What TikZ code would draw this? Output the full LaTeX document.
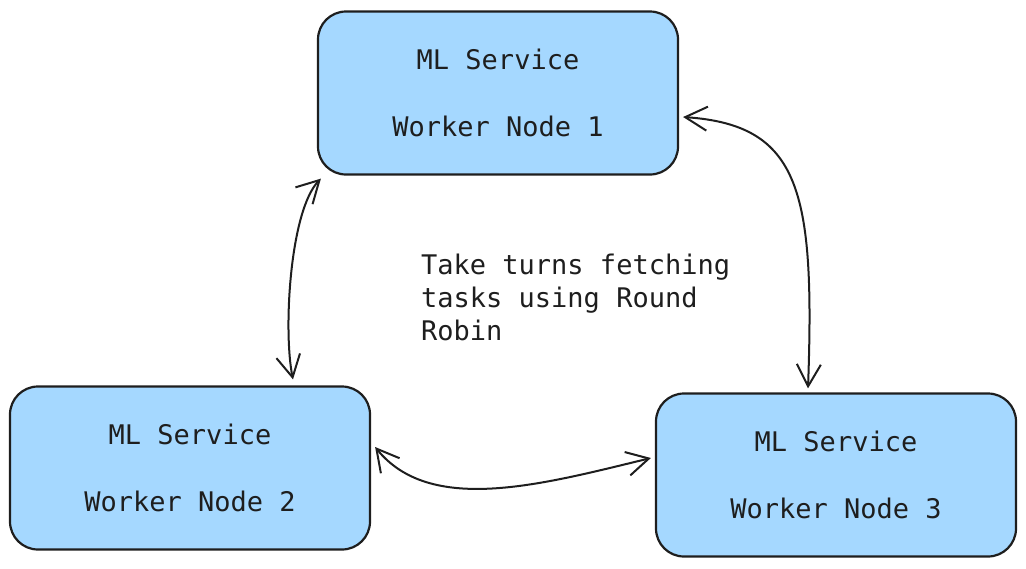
\documentclass[tikz,border=0pt]{standalone}
\usepackage{fontspec}
\newfontfamily\monofnt{DejaVu Sans Mono}
\usetikzlibrary{arrows.meta}
\definecolor{boxfill}{HTML}{A5D8FF}
\definecolor{ink}{HTML}{1E1E1E}
\tikzset{
  worker/.style={draw=ink, fill=boxfill, line width=2.2pt, rounded corners=28pt,
    minimum width=360pt, minimum height=163pt, inner sep=0pt,
    align=center, text=ink, font=\monofnt\fontsize{27}{33.5}\selectfont},
  note/.style={align=left, text=ink, inner sep=0pt, anchor=north west,
    font=\monofnt\fontsize{27}{33}\selectfont},
  link/.style={draw=ink, line width=2pt, line cap=round,
    {Straight Barb[length=22pt,width=24pt,line width=2pt]}-{Straight Barb[length=22pt,width=24pt,line width=2pt]}}
}
\begin{document}
\begin{tikzpicture}[x=1pt,y=-1pt]
\useasboundingbox (0,0) rectangle (1026,568);
\node[worker] (b1) at (498,93) {ML Service\\[33.5pt]Worker Node 1};
\node[worker] (b2) at (190,468) {ML Service\\[33.5pt]Worker Node 2};
\node[worker] (b3) at (836,475) {ML Service\\[33.5pt]Worker Node 3};
\node[note] (t) at (421,254) {Take turns fetching\\tasks using Round\\Robin};
\draw[link] ([xshift=4pt,yshift=-3pt]b1.south west) .. controls (290,210) and (283,330) .. ([xshift=103pt,yshift=6pt]b2.north);
\draw[link] ([xshift=4pt,yshift=-24pt]b1.east) .. controls (800,125) and (815,190) .. ([xshift=-28pt,yshift=4pt]b3.north);
\draw[link] ([xshift=4pt,yshift=21pt]b2.east) .. controls (430,515) and (540,485) .. ([xshift=-4pt,yshift=17pt]b3.west);
\end{tikzpicture}
\end{document}
